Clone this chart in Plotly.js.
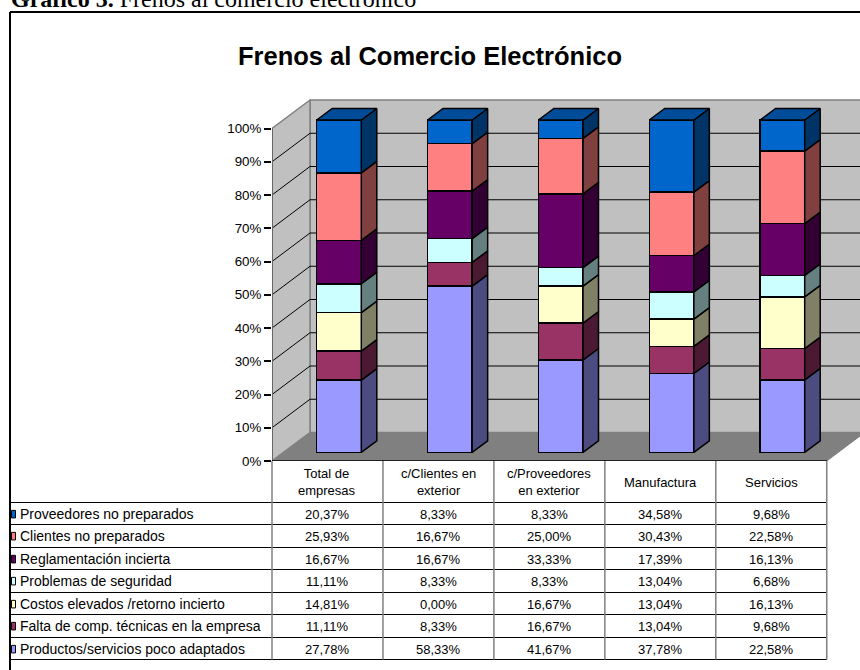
<!DOCTYPE html>
<html><head><meta charset="utf-8">
<script src="https://cdn.plot.ly/plotly-3.0.1.min.js"></script>
<style>html,body{margin:0;padding:0;background:#fff;overflow:hidden}</style>
</head><body><div id="chart" style="width:860px;height:670px"></div>
<script>
const categories = ["Total de<br>empresas","c/Clientes en<br>exterior","c/Proveedores<br>en exterior","Manufactura","Servicios"];
const productos   = [27.78,58.33,41.67,37.78,22.58];
const falta       = [11.11,8.33,16.67,13.04,9.68];
const costos      = [14.81,0.00,16.67,13.04,16.13];
const seguridad   = [11.11,8.33,8.33,13.04,6.68];
const reglamento  = [16.67,16.67,33.33,17.39,16.13];
const clientes    = [25.93,16.67,25.00,30.43,22.58];
const proveedores = [20.37,8.33,8.33,34.58,9.68];
const yTicks = [0,10,20,30,40,50,60,70,80,90,100];

// bottom to top in the stack
const series = [
 {name:"Productos/servicios poco adaptados", v:productos,  c:"#9999FF", s:"#4C4C80"},
 {name:"Falta de comp. técnicas en la empresa", v:falta,   c:"#993366", s:"#4C1933"},
 {name:"Costos elevados /retorno incierto", v:costos,      c:"#FFFFCC", s:"#808066"},
 {name:"Problemas de seguridad", v:seguridad,              c:"#CCFFFF", s:"#668080"},
 {name:"Reglamentación incierta", v:reglamento,            c:"#660066", s:"#330033"},
 {name:"Clientes no preparados", v:clientes,               c:"#FF8080", s:"#804040"},
 {name:"Proveedores no preparados", v:proveedores,         c:"#0066CC", s:"#003366"}
];
const W=860,H=670;
const px=x=>x/W, py=y=>1-y/H;
const AXC="Arial, 'Liberation Sans', sans-serif";

// geometry of the frame (px)
const X0=272, Y0=461, colW=110.95, pct=3.325, wallDX=38, wallDY=28.5, TOP=92;
const bandU=(W-X0)/colW;
const wx=wallDX/colW, wy=wallDY/pct;
const far=bandU+1;
// geometry of bars
const barLeft=316.7, barW=44.6, barPitch=110.85, barY0=452.3, barPct=3.323, barDX=15.5, barDY=11.5;
const bx=barDX/barPitch, by=barDY/barPct;
const x2a=(X0-(barLeft+barW/2))/barPitch+0.5, x2b=(W-(barLeft+barW/2))/barPitch+0.5;

const traces=[];
function poly(xs,ys,fill,line,lw,axes){
  traces.push({type:"scatter",mode:"lines",x:xs,y:ys,fill:fill?"toself":"none",fillcolor:fill||undefined,
    line:{color:line,width:lw},hoverinfo:"skip",showlegend:false,xaxis:axes?"x2":"x",yaxis:axes?"y2":"y"});
}
// walls and floor
poly([wx,far,far,wx,wx],[wy,wy,100+wy,100+wy,wy],"#C0C0C0","#808080",1.5);
poly([0,wx,wx,0,0],[0,wy,100+wy,100,0],"#C0C0C0","#808080",1.5);
poly([0,5,5+wx,far,far,wx,0],[0,0,wy,wy,wy,wy,0],"#808080","#808080",1);
// gridlines
yTicks.filter(t=>t>0&&t<100).forEach(t=>{
  poly([0,wx,far],[t,t+wy,t+wy],null,"#000000",1);
});
// value axis line and front floor edge
poly([0,0],[0,100],null,"#666666",2);
poly([0,5],[0,0],null,"#000000",1.5);

const pos=categories.map((_,i)=>i+0.5);
const totals=categories.map((_,i)=>series.reduce((a,s)=>a+s.v[i],0));
// front faces
series.forEach(s=>{
  traces.push({type:"bar",x:pos,y:s.v,name:s.name,width:barW/barPitch,xaxis:"x2",yaxis:"y2",
    marker:{color:s.c,line:{color:"#000",width:1.5}},showlegend:false,hoverinfo:"y+name"});
});
// side faces
const half=barW/barPitch/2;
const cum=categories.map(()=>0);
series.forEach(s=>{
  const xs=[],ys=[];
  s.v.forEach((v,i)=>{
    const a=cum[i], b=a+v/totals[i]*100; cum[i]=b;
    if(v<=0) return;
    const r=pos[i]+half;
    xs.push(r,r+bx,r+bx,r,r,null); ys.push(a,a+by,b+by,b,a,null);
  });
  poly(xs,ys,s.s,"#000000",1.5,true);
});
// top faces
{
  const xs=[],ys=[];
  pos.forEach(p=>{const l=p-half,r=p+half;
    xs.push(l,r,r+bx,l+bx,l,null); ys.push(100,100,100+by,100+by,100,null);});
  poly(xs,ys,"#004C99","#000000",1.5,true);
}

// table
const anns=[], shapes=[];
const colX=categories.map((_,i)=>X0+colW*(i+0.5));
const rowTop=[502.5,524.5,547.5,569.5,592.5,614.5,637.5], rowH=22.3, tableBottom=659.5;
const rows=series.slice().reverse();
const line=(x0,y0,x1,y1,c,w)=>shapes.push({type:"line",xref:"paper",yref:"paper",x0:px(x0),x1:px(x1),y0:py(y0),y1:py(y1),line:{color:c,width:w},layer:"above"});
const txt=(x,y,t,anchor,opt)=>anns.push(Object.assign({xref:"paper",yref:"paper",x:px(x),y:py(y),text:t,showarrow:false,xanchor:anchor,yanchor:"middle",
  font:{family:AXC,size:13,color:"#000"},borderpad:0},opt||{}));
categories.forEach((c,i)=>txt(colX[i],482,c,"center"));
rows.forEach((s,r)=>{
  const cy=rowTop[r]+rowH/2+0.5;
  txt(18.5,cy,s.name,"left",{font:{family:AXC,size:14,color:"#000"}});
  s.v.forEach((v,i)=>txt(colX[i],cy,v.toFixed(2).replace(".",",")+"%","center"));
  shapes.push({type:"rect",xref:"paper",yref:"paper",x0:px(11.5),x1:px(15.5),y0:py(cy-3.8),y1:py(cy+3.8),fillcolor:s.c,line:{color:"#000",width:1},layer:"above"});
});
rowTop.concat([tableBottom]).forEach(y=>line(10,y,X0+5*colW,y,"#000",1));
for(let i=0;i<=5;i++) line(X0+colW*i,Y0,X0+colW*i,tableBottom,"#808080",1.5);
// chart frame
line(10,12,W,12,"#000",2);
line(10,12,10,H,"#000",2);
// caption, cut by the page top as in the source
txt(10,-1,"<b>Gráfico 3.</b> Frenos al comercio electrónico","left",{font:{family:"'Times New Roman','Liberation Serif',serif",size:24,color:"#000"}});

const domX=[px(X0),1], domY=[py(Y0),py(TOP)];
const yTop=(Y0-TOP)/pct;
const y2a=-(Y0-barY0)/barPct, y2b=(barY0-TOP)/barPct;
const layout={
  width:W,height:H,margin:{l:0,r:0,t:0,b:0,pad:0},paper_bgcolor:"#fff",plot_bgcolor:"rgba(0,0,0,0)",
  showlegend:false,barmode:"stack",barnorm:"percent",
  title:{text:"<b>Frenos al Comercio Electrónico</b>",x:0.5,xanchor:"center",y:py(56),yanchor:"middle",font:{family:AXC,size:25.5,color:"#000"}},
  xaxis:{domain:domX,range:[0,bandU],visible:false,fixedrange:true},
  yaxis:{domain:domY,range:[0,yTop],tickvals:yTicks,ticktext:yTicks.map(t=>t+"%"),ticks:"outside",ticklen:7,tickwidth:1.5,tickcolor:"#000",
    showgrid:false,zeroline:false,showline:false,tickfont:{family:AXC,size:13.33,color:"#000"},fixedrange:true,anchor:"x"},
  xaxis2:{overlaying:"x",range:[x2a,x2b],visible:false,fixedrange:true},
  yaxis2:{overlaying:"y",range:[y2a,y2b],visible:false,fixedrange:true},
  annotations:anns,shapes:shapes
};
Plotly.newPlot("chart",traces,layout,{displayModeBar:false,responsive:false});
</script></body></html>
